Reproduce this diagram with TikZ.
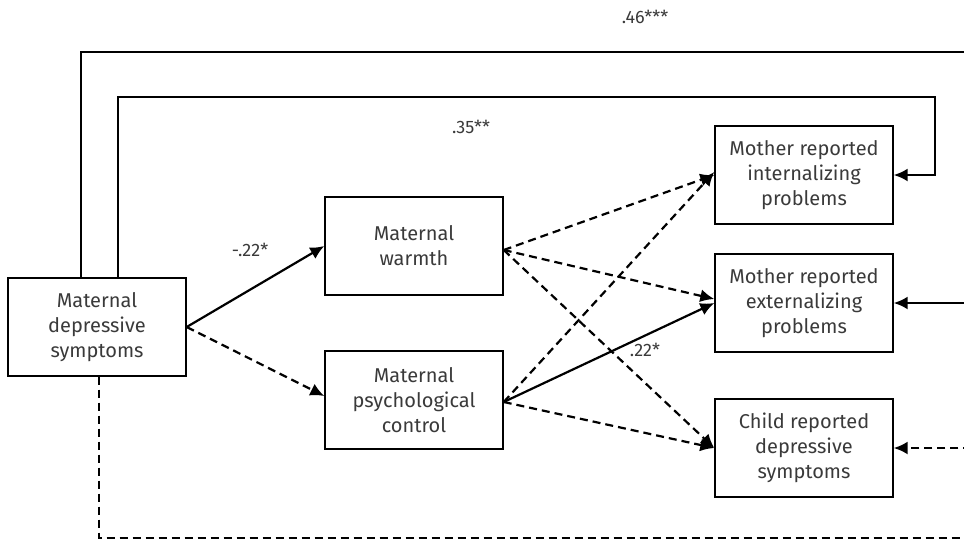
\documentclass[tikz,border=0pt]{standalone}
\usepackage{fontspec}
\setmainfont{Fira Sans}
\usetikzlibrary{arrows.meta}
\definecolor{txt}{HTML}{3a3a3a}
\begin{document}
\begin{tikzpicture}[x=1pt,y=-1pt,
  box/.style={draw, line width=1.4pt, minimum width=178pt, minimum height=98pt, align=center, inner sep=2pt, text=txt, font=\fontsize{20}{25}\selectfont},
  lbl/.style={text=txt, font=\fontsize{18}{22}\selectfont},
  con/.style={line width=2.2pt, -{Latex[length=14pt,width=13pt]}},
  dsh/.style={con, dash pattern=on 8pt off 5pt}]
\useasboundingbox (0,0) rectangle (964,542);
\clip (0,0) rectangle (964,542);
\node[box] (mds) at (97,327) {Maternal\\depressive\\symptoms};
\node[box] (warm) at (414,246) {Maternal\\warmth};
\node[box] (ctrl) at (414,400) {Maternal\\psychological\\control};
\node[box] (int) at (804,175) {Mother reported\\internalizing\\problems};
\node[box] (ext) at (804,303) {Mother reported\\externalizing\\problems};
\node[box] (chd) at (804,448) {Child reported\\depressive\\symptoms};
\draw[con] (mds.east) -- (warm.west);
\draw[dsh] (mds.east) -- ([yshift=4pt]ctrl.west);
\draw[dsh] ([yshift=-4pt]warm.east) -- (int.west);
\draw[dsh] ([yshift=-4pt]warm.east) -- ([yshift=4pt]ext.west);
\draw[dsh] ([yshift=-4pt]warm.east) -- (chd.west);
\draw[dsh] ([yshift=-2pt]ctrl.east) -- ([yshift=3pt]int.west);
\draw[con] ([yshift=-2pt]ctrl.east) -- (ext.west);
\draw[dsh] ([yshift=-2pt]ctrl.east) -- (chd.west);
\draw[con] ([xshift=-16pt]mds.north) |- (975,52) |- (ext.east);
\draw[con] ([xshift=21pt]mds.north) |- (935,97) |- (int.east);
\draw[dsh] ([xshift=2pt]mds.south) |- (975,538) |- (chd.east);
\node[lbl] (l46) at (645,17) {.46***};
\node[lbl] (l35) at (471,127) {.35**};
\node[lbl] (l22n) at (250,250) {-.22*};
\node[lbl] (l22) at (645,350) {.22*};
\end{tikzpicture}
\end{document}
